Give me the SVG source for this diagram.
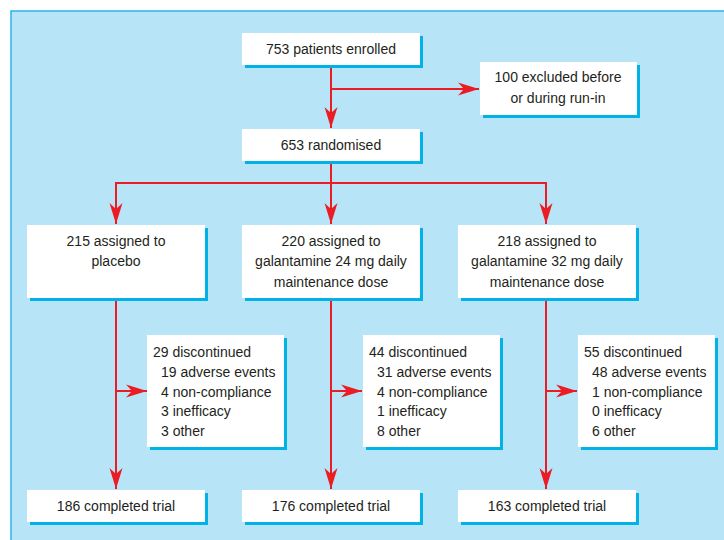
<svg xmlns="http://www.w3.org/2000/svg" width="724" height="540" viewBox="0 0 724 540">
<defs>
<style>
.box{fill:#ffffff;}
.sh{fill:#00b2e6;}
.t{font-family:"Liberation Sans",Arial,sans-serif;font-size:14px;fill:#231f20;}
.c{text-anchor:middle;}
.ln{stroke:#ec1c24;stroke-width:2;fill:none;}
</style>
<marker id="ah" markerUnits="userSpaceOnUse" markerWidth="24" markerHeight="16" viewBox="-21 -8 22 16" refX="0" refY="0" orient="auto">
<path d="M0,0 L-21,-6.5 L-15,0 L-21,6.5 Z" fill="#ec1c24"/>
</marker>
</defs>
<rect x="11" y="11" width="720" height="540" fill="#b8e4f8" stroke="#27b5e8" stroke-width="1.5"/>
<g id="connectors">
<line class="ln" x1="331" y1="65" x2="331" y2="128" marker-end="url(#ah)"/>
<line class="ln" x1="331" y1="89" x2="479" y2="89" marker-end="url(#ah)"/>
<line class="ln" x1="331" y1="161" x2="331" y2="224" marker-end="url(#ah)"/>
<polyline class="ln" points="116,195 116,183 546,183 546,195"/>
<line class="ln" x1="116" y1="190" x2="116" y2="224" marker-end="url(#ah)"/>
<line class="ln" x1="546" y1="190" x2="546" y2="224" marker-end="url(#ah)"/>
<line class="ln" x1="116" y1="298" x2="116" y2="489" marker-end="url(#ah)"/>
<line class="ln" x1="331" y1="298" x2="331" y2="489" marker-end="url(#ah)"/>
<line class="ln" x1="546" y1="298" x2="546" y2="489" marker-end="url(#ah)"/>
<line class="ln" x1="116" y1="391" x2="147" y2="391" marker-end="url(#ah)"/>
<line class="ln" x1="331" y1="391" x2="362" y2="391" marker-end="url(#ah)"/>
<line class="ln" x1="546" y1="391" x2="577" y2="391" marker-end="url(#ah)"/>
</g>
<g id="n-enrolled">
<rect class="sh" x="245" y="36" width="178" height="32"/>
<rect class="box" x="242" y="33" width="178" height="32"/>
<text class="t c" x="331" y="54">753 patients enrolled</text>
</g>
<g id="n-excluded">
<rect class="sh" x="483" y="65" width="157" height="53"/>
<rect class="box" x="480" y="62" width="157" height="53"/>
<text class="t c" x="558" y="82">100 excluded before</text>
<text class="t c" x="558" y="103">or during run-in</text>
</g>
<g id="n-randomised">
<rect class="sh" x="245" y="132" width="178" height="32"/>
<rect class="box" x="242" y="129" width="178" height="32"/>
<text class="t c" x="331" y="150">653 randomised</text>
</g>
<g id="n-placebo">
<rect class="sh" x="30" y="228" width="178" height="73"/>
<rect class="box" x="27" y="225" width="178" height="73"/>
<text class="t c" x="116" y="246">215 assigned to</text>
<text class="t c" x="116" y="266">placebo</text>
</g>
<g id="n-gal24">
<rect class="sh" x="245" y="228" width="178" height="73"/>
<rect class="box" x="242" y="225" width="178" height="73"/>
<text class="t c" x="331" y="246">220 assigned to</text>
<text class="t c" x="331" y="266">galantamine 24 mg daily</text>
<text class="t c" x="331" y="287">maintenance dose</text>
</g>
<g id="n-gal32">
<rect class="sh" x="461" y="228" width="178" height="73"/>
<rect class="box" x="458" y="225" width="178" height="73"/>
<text class="t c" x="547" y="246">218 assigned to</text>
<text class="t c" x="547" y="266">galantamine 32 mg daily</text>
<text class="t c" x="547" y="287">maintenance dose</text>
</g>
<g id="n-disc1">
<rect class="sh" x="150" y="338" width="137" height="112"/>
<rect class="box" x="147" y="335" width="137" height="112"/>
<text class="t" x="153" y="357">29 discontinued</text>
<text class="t" x="161" y="377">19 adverse events</text>
<text class="t" x="161" y="397">4 non-compliance</text>
<text class="t" x="161" y="416">3 inefficacy</text>
<text class="t" x="161" y="436">3 other</text>
</g>
<g id="n-disc2">
<rect class="sh" x="366" y="338" width="137" height="112"/>
<rect class="box" x="363" y="335" width="137" height="112"/>
<text class="t" x="369" y="357">44 discontinued</text>
<text class="t" x="377" y="377">31 adverse events</text>
<text class="t" x="377" y="397">4 non-compliance</text>
<text class="t" x="377" y="416">1 inefficacy</text>
<text class="t" x="377" y="436">8 other</text>
</g>
<g id="n-disc3">
<rect class="sh" x="581" y="338" width="137" height="112"/>
<rect class="box" x="578" y="335" width="137" height="112"/>
<text class="t" x="584" y="357">55 discontinued</text>
<text class="t" x="592" y="377">48 adverse events</text>
<text class="t" x="592" y="397">1 non-compliance</text>
<text class="t" x="592" y="416">0 inefficacy</text>
<text class="t" x="592" y="436">6 other</text>
</g>
<g id="n-comp1">
<rect class="sh" x="30" y="493" width="178" height="32"/>
<rect class="box" x="27" y="490" width="178" height="32"/>
<text class="t c" x="116" y="511">186 completed trial</text>
</g>
<g id="n-comp2">
<rect class="sh" x="245" y="493" width="178" height="32"/>
<rect class="box" x="242" y="490" width="178" height="32"/>
<text class="t c" x="331" y="511">176 completed trial</text>
</g>
<g id="n-comp3">
<rect class="sh" x="461" y="493" width="178" height="32"/>
<rect class="box" x="458" y="490" width="178" height="32"/>
<text class="t c" x="547" y="511">163 completed trial</text>
</g>
</svg>
